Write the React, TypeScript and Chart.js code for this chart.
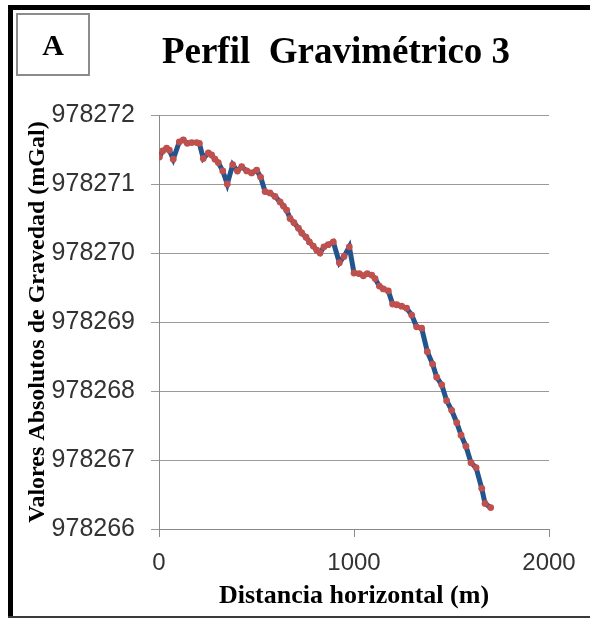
import React, { useEffect, useRef } from "react";
import { Chart, registerables } from "chart.js";

Chart.register(...registerables);

const chartTitle = "Perfil  Gravimétrico 3";
const panelLabel = "A";
const xAxisTitle = "Distancia horizontal (m)";
const yAxisTitle = "Valores Absolutos de Gravedad (mGal)";

const xTicks = [0, 1000, 2000];
const yTicks = [978266, 978267, 978268, 978269, 978270, 978271, 978272];

const distances = [
  2, 19, 39, 53, 73, 104, 125, 145, 168, 193, 207, 227, 253, 270, 287, 304, 327, 350, 378, 402,
  424, 450, 475, 501, 521, 544, 569, 595, 621, 638, 655, 672, 692, 715, 732, 754, 771, 791, 809, 826,
  846, 868, 894, 925, 949, 976, 1000, 1027, 1048, 1068, 1091, 1108, 1130, 1150, 1176, 1198, 1219, 1244,
  1270, 1296, 1321, 1347, 1376, 1403, 1424, 1450, 1475, 1501, 1527, 1549, 1574, 1600, 1626, 1655, 1672, 1701,
];

const gravity = [
  978271.39, 978271.48, 978271.52, 978271.49, 978271.36, 978271.61, 978271.64, 978271.59, 978271.6, 978271.6,
  978271.59, 978271.37, 978271.45, 978271.42, 978271.36, 978271.31, 978271.19, 978271.0, 978271.28, 978271.19,
  978271.25, 978271.19, 978271.16, 978271.2, 978271.1, 978270.89, 978270.87, 978270.82, 978270.74, 978270.68,
  978270.62, 978270.5, 978270.44, 978270.36, 978270.29, 978270.23, 978270.16, 978270.1, 978270.04, 978270.0,
  978270.09, 978270.12, 978270.16, 978269.86, 978269.95, 978270.09, 978269.71, 978269.7, 978269.67, 978269.7,
  978269.68, 978269.63, 978269.52, 978269.48, 978269.45, 978269.26, 978269.25, 978269.23, 978269.2, 978269.1,
  978268.93, 978268.91, 978268.57, 978268.39, 978268.2, 978268.09, 978267.86, 978267.72, 978267.54, 978267.36,
  978267.2, 978266.96, 978266.89, 978266.59, 978266.37, 978266.31,
];

const titlePlugin = {
  id: "fixedTitle",
  afterDraw(chart: any) {
    const ctx = chart.ctx;
    ctx.save();
    ctx.font = 'bold 37px "Liberation Serif"';
    ctx.fillStyle = "#000";
    ctx.textAlign = "center";
    ctx.textBaseline = "alphabetic";
    ctx.fillText(chartTitle, 336, 63);
    ctx.restore();
  },
};

export default function App() {
  const canvasRef = useRef<HTMLCanvasElement | null>(null);

  useEffect(() => {
    if (!canvasRef.current) return;
    const points = distances.map((x, i) => ({ x, y: gravity[i] }));
    const chart = new Chart(canvasRef.current, {
      type: "line",
      data: {
        datasets: [
          {
            data: points,
            borderColor: "#22548e",
            borderWidth: 5,
            pointBackgroundColor: "#C0504D",
            pointBorderColor: "#C0504D",
            pointBorderWidth: 0,
            pointRadius: 3.4,
            tension: 0,
          },
        ],
      },
      plugins: [titlePlugin],
      options: {
        animation: false,
        responsive: false,
        devicePixelRatio: 1,
        layout: { padding: { top: 115, right: 41, left: 0, bottom: 0 } },
        plugins: { legend: { display: false }, tooltip: { enabled: false }, title: { display: false } },
        scales: {
          x: {
            type: "linear",
            min: xTicks[0],
            max: xTicks[xTicks.length - 1],
            afterBuildTicks: (s: any) => {
              s.ticks = xTicks.map((v) => ({ value: v }));
            },
            afterFit: (s: any) => {
              s.height = 91;
            },
            ticks: {
              callback: (v: any) => String(v),
              font: { family: "Liberation Sans", size: 24 },
              color: "#333",
              padding: 12,
              maxRotation: 0,
            },
            grid: { drawOnChartArea: false, drawTicks: true, tickLength: 8, color: "#8a8a8a" },
            border: { color: "#8a8a8a", width: 1 },
            title: {
              display: true,
              text: xAxisTitle,
              font: { family: "Liberation Serif", size: 26, weight: "bold" },
              color: "#000",
              padding: { top: 0, bottom: 8 },
            },
          },
          y: {
            type: "linear",
            min: yTicks[0],
            max: yTicks[yTicks.length - 1],
            afterBuildTicks: (s: any) => {
              s.ticks = yTicks.map((v) => ({ value: v }));
            },
            afterFit: (s: any) => {
              s.width = 159;
            },
            ticks: {
              callback: (v: any) => String(v),
              font: { family: "Liberation Sans", size: 25 },
              color: "#333",
              padding: 16,
            },
            grid: { color: "#9a9a9a", lineWidth: 1, drawTicks: true, tickLength: 8 },
            border: { color: "#8a8a8a", width: 1 },
            title: {
              display: true,
              text: yAxisTitle,
              font: { family: "Liberation Serif", size: 24, weight: "bold" },
              color: "#000",
              padding: { top: 23, bottom: 0 },
            },
          },
        },
      },
    } as any);
    return () => chart.destroy();
  }, []);

  return (
    <div style={{ position: "absolute", left: 0, top: 0, width: 590, height: 620, background: "#fff" }}>
      <canvas ref={canvasRef} width={590} height={620} style={{ position: "absolute", left: 0, top: 0 }} />
      <div style={{ position: "absolute", left: 8, top: 5, width: 582, height: 5, background: "#000" }} />
      <div style={{ position: "absolute", left: 8, top: 5, width: 5, height: 613, background: "#000" }} />
      <div style={{ position: "absolute", left: 8, top: 616, width: 582, height: 2, background: "#3a3a3a" }} />
      <div
        style={{
          position: "absolute",
          left: 16,
          top: 13,
          width: 74,
          height: 63,
          boxSizing: "border-box",
          border: "2px solid #8c8c8c",
          display: "flex",
          alignItems: "center",
          justifyContent: "center",
          fontFamily: '"Liberation Serif", serif',
          fontWeight: "bold",
          fontSize: 30,
          lineHeight: 1,
          color: "#000",
        }}
      >
        {panelLabel}
      </div>
    </div>
  );
}
